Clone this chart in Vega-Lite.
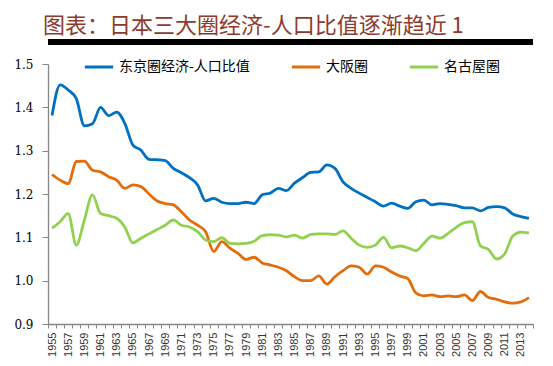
{
  "$schema": "https://vega.github.io/schema/vega-lite/v6.json",
  "width": 485,
  "height": 260,
  "autosize": {"type": "none"},
  "padding": {"left": 48, "top": 64, "right": 20, "bottom": 42},
  "background": "white",
  "title": {
    "text": "图表：日本三大圈经济-人口比值逐渐趋近 1",
    "anchor": "start",
    "frame": "group",
    "dx": -5,
    "offset": 2,
    "font": "Noto Sans CJK SC",
    "fontSize": 22,
    "fontWeight": "normal",
    "color": "#8E3B2E"
  },
  "config": {
    "view": {"stroke": null},
    "axis": {"grid": false, "domainColor": "#868686", "tickColor": "#868686", "domainWidth": 1.3, "tickWidth": 1}
  },
  "data": {
    "values": [
      {"year":1955,"东京圈经济-人口比值":1.381,"大阪圈":1.245,"名古屋圈":1.121},
      {"year":1956,"东京圈经济-人口比值":1.452,"大阪圈":1.232,"名古屋圈":1.136},
      {"year":1957,"东京圈经济-人口比值":1.44,"大阪圈":1.224,"名古屋圈":1.155},
      {"year":1958,"东京圈经济-人口比值":1.42,"大阪圈":1.275,"名古屋圈":1.082},
      {"year":1959,"东京圈经济-人口比值":1.357,"大阪圈":1.276,"名古屋圈":1.14},
      {"year":1960,"东京圈经济-人口比值":1.362,"大阪圈":1.255,"名古屋圈":1.198},
      {"year":1961,"东京圈经济-人口比值":1.4,"大阪圈":1.251,"名古屋圈":1.155},
      {"year":1962,"东京圈经济-人口比值":1.381,"大阪圈":1.24,"名古屋圈":1.15},
      {"year":1963,"东京圈经济-人口比值":1.389,"大阪圈":1.232,"名古屋圈":1.144},
      {"year":1964,"东京圈经济-人口比值":1.363,"大阪圈":1.213,"名古屋圈":1.124},
      {"year":1965,"东京圈经济-人口比值":1.313,"大阪圈":1.221,"名古屋圈":1.087},
      {"year":1966,"东京圈经济-人口比值":1.301,"大阪圈":1.217,"名古屋圈":1.098},
      {"year":1967,"东京圈经济-人口比值":1.28,"大阪圈":1.2,"名古屋圈":1.108},
      {"year":1968,"东京圈经济-人口比值":1.279,"大阪圈":1.184,"名古屋圈":1.118},
      {"year":1969,"东京圈经济-人口比值":1.277,"大阪圈":1.178,"名古屋圈":1.128},
      {"year":1970,"东京圈经济-人口比值":1.259,"大阪圈":1.175,"名古屋圈":1.14},
      {"year":1971,"东京圈经济-人口比值":1.249,"大阪圈":1.159,"名古屋圈":1.128},
      {"year":1972,"东京圈经济-人口比值":1.238,"大阪圈":1.14,"名古屋圈":1.124},
      {"year":1973,"东京圈经济-人口比值":1.221,"大阪圈":1.128,"名古屋圈":1.113},
      {"year":1974,"东京圈经济-人口比值":1.184,"大阪圈":1.113,"名古屋圈":1.094},
      {"year":1975,"东京圈经济-人口比值":1.19,"大阪圈":1.067,"名古屋圈":1.09},
      {"year":1976,"东京圈经济-人口比值":1.181,"大阪圈":1.09,"名古屋圈":1.099},
      {"year":1977,"东京圈经济-人口比值":1.178,"大阪圈":1.075,"名古屋圈":1.086},
      {"year":1978,"东京圈经济-人口比值":1.178,"大阪圈":1.063,"名古屋圈":1.085},
      {"year":1979,"东京圈经济-人口比值":1.181,"大阪圈":1.049,"名古屋圈":1.086},
      {"year":1980,"东京圈经济-人口比值":1.178,"大阪圈":1.054,"名古屋圈":1.091},
      {"year":1981,"东京圈经济-人口比值":1.198,"大阪圈":1.041,"名古屋圈":1.104},
      {"year":1982,"东京圈经济-人口比值":1.202,"大阪圈":1.036,"名古屋圈":1.106},
      {"year":1983,"东京圈经济-人口比值":1.213,"大阪圈":1.031,"名古屋圈":1.105},
      {"year":1984,"东京圈经济-人口比值":1.208,"大阪圈":1.023,"名古屋圈":1.101},
      {"year":1985,"东京圈经济-人口比值":1.225,"大阪圈":1.009,"名古屋圈":1.105},
      {"year":1986,"东京圈经济-人口比值":1.238,"大阪圈":1.0,"名古屋圈":1.098},
      {"year":1987,"东京圈经济-人口比值":1.25,"大阪圈":1.0,"名古屋圈":1.107},
      {"year":1988,"东京圈经济-人口比值":1.251,"大阪圈":1.011,"名古屋圈":1.108},
      {"year":1989,"东京圈经济-人口比值":1.267,"大阪圈":0.992,"名古屋圈":1.108},
      {"year":1990,"东京圈经济-人口比值":1.259,"大阪圈":1.009,"名古屋圈":1.107},
      {"year":1991,"东京圈经济-人口比值":1.228,"大阪圈":1.023,"名古屋圈":1.115},
      {"year":1992,"东京圈经济-人口比值":1.213,"大阪圈":1.034,"名古屋圈":1.098},
      {"year":1993,"东京圈经济-人口比值":1.202,"大阪圈":1.031,"名古屋圈":1.082},
      {"year":1994,"东京圈经济-人口比值":1.192,"大阪圈":1.015,"名古屋圈":1.077},
      {"year":1995,"东京圈经济-人口比值":1.182,"大阪圈":1.034,"名古屋圈":1.082},
      {"year":1996,"东京圈经济-人口比值":1.172,"大阪圈":1.031,"名古屋圈":1.1},
      {"year":1997,"东京圈经济-人口比值":1.179,"大阪圈":1.02,"名古屋圈":1.076},
      {"year":1998,"东京圈经济-人口比值":1.172,"大阪圈":1.011,"名古屋圈":1.08},
      {"year":1999,"东京圈经济-人口比值":1.167,"大阪圈":1.005,"名古屋圈":1.076},
      {"year":2000,"东京圈经济-人口比值":1.182,"大阪圈":0.972,"名古屋圈":1.069},
      {"year":2001,"东京圈经济-人口比值":1.186,"大阪圈":0.965,"名古屋圈":1.086},
      {"year":2002,"东京圈经济-人口比值":1.175,"大阪圈":0.967,"名古屋圈":1.103},
      {"year":2003,"东京圈经济-人口比值":1.178,"大阪圈":0.963,"名古屋圈":1.098},
      {"year":2004,"东京圈经济-人口比值":1.176,"大阪圈":0.965,"名古屋圈":1.109},
      {"year":2005,"东京圈经济-人口比值":1.173,"大阪圈":0.963,"名古屋圈":1.123},
      {"year":2006,"东京圈经济-人口比值":1.168,"大阪圈":0.967,"名古屋圈":1.134},
      {"year":2007,"东京圈经济-人口比值":1.168,"大阪圈":0.954,"名古屋圈":1.136},
      {"year":2008,"东京圈经济-人口比值":1.161,"大阪圈":0.975,"名古屋圈":1.08},
      {"year":2009,"东京圈经济-人口比值":1.169,"大阪圈":0.961,"名古屋圈":1.072},
      {"year":2010,"东京圈经济-人口比值":1.171,"大阪圈":0.957,"名古屋圈":1.05},
      {"year":2011,"东京圈经济-人口比值":1.168,"大阪圈":0.951,"名古屋圈":1.062},
      {"year":2012,"东京圈经济-人口比值":1.154,"大阪圈":0.948,"名古屋圈":1.103},
      {"year":2013,"东京圈经济-人口比值":1.148,"大阪圈":0.951,"名古屋圈":1.112},
      {"year":2014,"东京圈经济-人口比值":1.144,"大阪圈":0.961,"名古屋圈":1.11}
    ]
  },
  "layer": [
    {
      "transform": [{"fold": ["东京圈经济-人口比值", "大阪圈", "名古屋圈"], "as": ["region", "value"]}],
      "mark": {"type": "line", "interpolate": "monotone", "strokeWidth": 2.8},
      "encoding": {
        "x": {
          "field": "year", "type": "ordinal",
          "scale": {"type": "band", "paddingInner": 0, "paddingOuter": 0},
          "axis": {
            "title": null, "labelAngle": -90, "labelOverlap": false, "tickBand": "extent",
            "labelExpr": "datum.value % 2 == 1 ? datum.label : ''",
            "labelFont": "Liberation Sans", "labelFontSize": 11, "labelColor": "#333333",
            "tickSize": 4, "labelPadding": 4
          }
        },
        "y": {
          "field": "value", "type": "quantitative",
          "scale": {"domain": [0.9, 1.5], "nice": false, "zero": false},
          "axis": {
            "title": null, "values": [0.9, 1.0, 1.1, 1.2, 1.3, 1.4, 1.5], "format": ".1f",
            "labelFont": "DejaVu Serif", "labelFontSize": 12, "labelColor": "#000000",
            "tickSize": 6, "labelPadding": 9
          }
        },
        "color": {
          "field": "region", "type": "nominal",
          "scale": {"domain": ["东京圈经济-人口比值", "大阪圈", "名古屋圈"], "range": ["#0070C0", "#E46C0A", "#92D050"]},
          "legend": {
            "title": null, "orient": "none", "direction": "horizontal",
            "legendX": 35, "legendY": -13,
            "symbolType": "stroke", "symbolSize": 800, "symbolStrokeWidth": 3,
            "labelFont": "Noto Sans CJK SC", "labelFontSize": 14, "labelColor": "#000000",
            "labelOffset": 4, "columnPadding": 35
          }
        }
      }
    },
    {
      "mark": {"type": "rule", "color": "#000000", "strokeWidth": 4.5, "clip": false},
      "encoding": {"y": {"datum": 1.551}}
    }
  ]
}
